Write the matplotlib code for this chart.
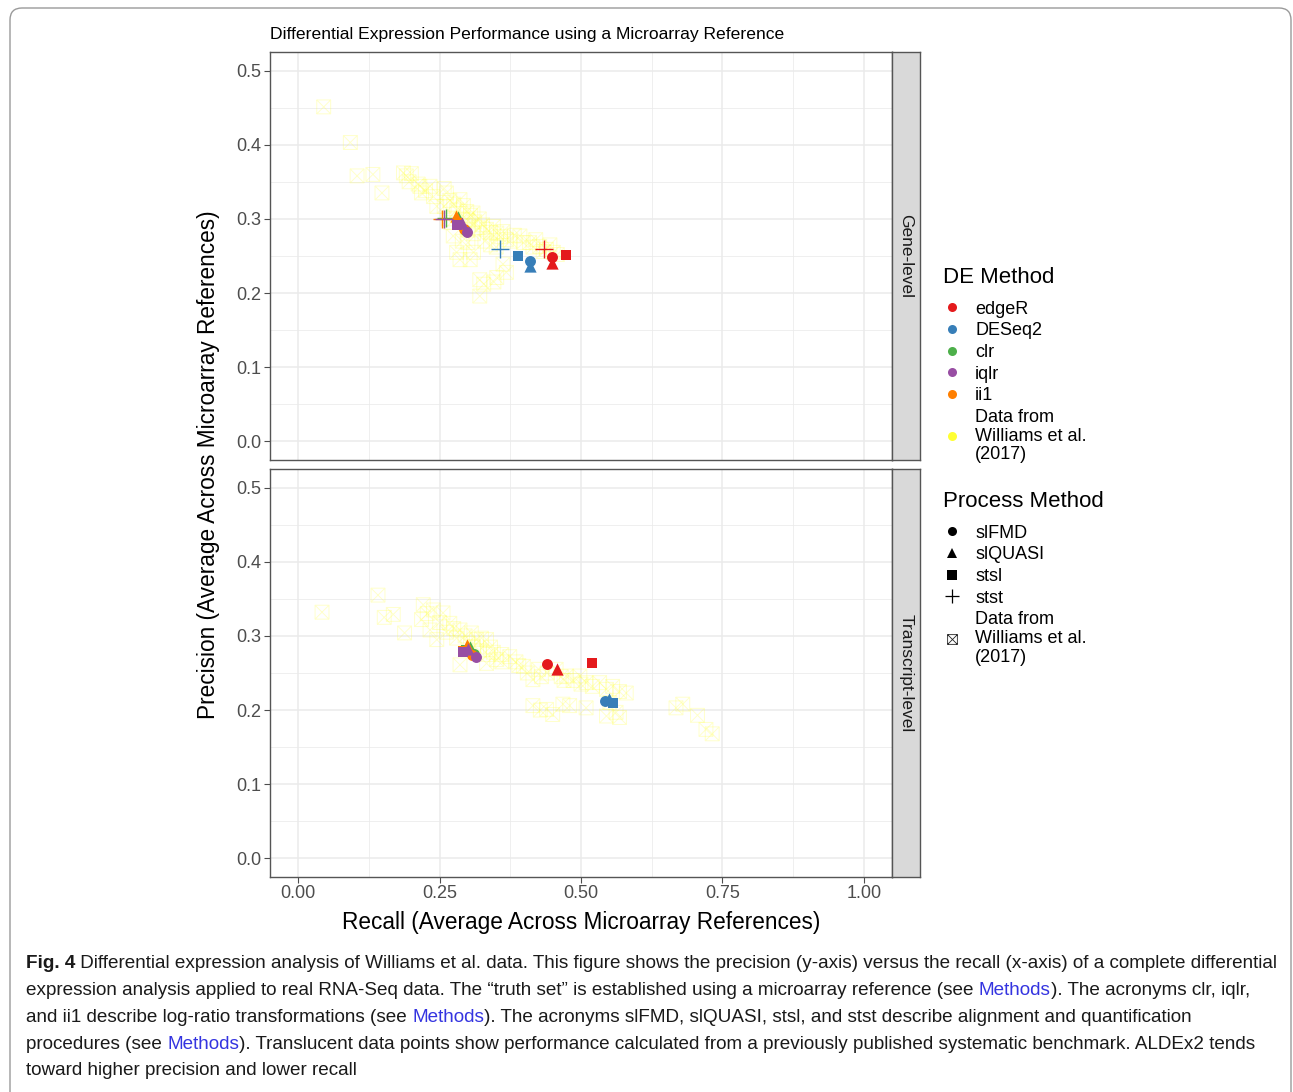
import numpy as np
import matplotlib
matplotlib.use("Agg")
import matplotlib.pyplot as plt
from matplotlib.path import Path
from matplotlib.lines import Line2D
from matplotlib.patches import FancyBboxPatch
from matplotlib.transforms import IdentityTransform

plt.rcParams['font.family'] = ['Liberation Sans', 'DejaVu Sans']

# ---- data ----
methods = ["edgeR", "DESeq2", "clr", "iqlr", "ii1"]
method_colors = {"edgeR": "#E41A1C", "DESeq2": "#377EB8", "clr": "#4DAF4A",
                 "iqlr": "#984EA3", "ii1": "#FF7F00"}
processes = ["slFMD", "slQUASI", "stsl", "stst"]
panels = ["Gene-level", "Transcript-level"]

# recall / precision per method, in process order (slFMD, slQUASI, stsl, stst)
gene_recall = {
    "edgeR":  [0.448, 0.449, 0.473, 0.434],
    "DESeq2": [0.410, 0.410, 0.389, 0.356],
    "clr":    [0.295, 0.283, 0.282, 0.262],
    "iqlr":   [0.299, 0.290, 0.280, 0.258],
    "ii1":    [0.293, 0.279, 0.281, 0.255],
}
gene_precision = {
    "edgeR":  [0.248, 0.241, 0.251, 0.260],
    "DESeq2": [0.243, 0.237, 0.250, 0.259],
    "clr":    [0.285, 0.302, 0.294, 0.301],
    "iqlr":   [0.282, 0.294, 0.292, 0.300],
    "ii1":    [0.287, 0.304, 0.295, 0.300],
}
tx_recall = {
    "edgeR":  [0.439, 0.458, 0.520, np.nan],
    "DESeq2": [0.542, 0.549, 0.556, np.nan],
    "clr":    [0.310, 0.303, 0.297, np.nan],
    "iqlr":   [0.314, 0.300, 0.292, np.nan],
    "ii1":    [0.308, 0.298, 0.292, np.nan],
}
tx_precision = {
    "edgeR":  [0.262, 0.256, 0.263, np.nan],
    "DESeq2": [0.212, 0.215, 0.209, np.nan],
    "clr":    [0.275, 0.285, 0.281, np.nan],
    "iqlr":   [0.271, 0.283, 0.278, np.nan],
    "ii1":    [0.274, 0.288, 0.279, np.nan],
}

# Williams et al. (2017) benchmark points
williams_gene_recall = [
    0.045, 0.092, 0.104, 0.132, 0.148, 0.186, 0.191, 0.200, 0.196, 0.212, 0.215, 0.218, 0.225,
    0.233, 0.239, 0.245, 0.258, 0.258, 0.262, 0.268, 0.275, 0.286, 0.280, 0.292, 0.298, 0.305,
    0.309, 0.300, 0.312, 0.320, 0.318, 0.326, 0.333, 0.340, 0.345, 0.351, 0.358, 0.368, 0.362,
    0.375, 0.382, 0.392, 0.398, 0.409, 0.415, 0.420, 0.427, 0.433, 0.439, 0.445, 0.451, 0.458,
    0.274, 0.286, 0.280, 0.304, 0.310, 0.362, 0.368, 0.321, 0.328, 0.351, 0.346, 0.321,
    0.265, 0.270, 0.290, 0.300, 0.310, 0.330, 0.340, 0.350, 0.300, 0.290,
]
williams_gene_precision = [
    0.451, 0.403, 0.358, 0.360, 0.335, 0.362, 0.358, 0.361, 0.350, 0.347, 0.344, 0.335, 0.338,
    0.344, 0.330, 0.317, 0.341, 0.317, 0.335, 0.325, 0.320, 0.326, 0.312, 0.318, 0.310, 0.305,
    0.308, 0.298, 0.296, 0.300, 0.288, 0.292, 0.286, 0.282, 0.290, 0.281, 0.276, 0.272, 0.283,
    0.270, 0.278, 0.277, 0.268, 0.268, 0.262, 0.272, 0.263, 0.256, 0.259, 0.265, 0.255, 0.252,
    0.277, 0.245, 0.255, 0.245, 0.255, 0.239, 0.228, 0.218, 0.212, 0.221, 0.215, 0.196,
    0.300, 0.295, 0.300, 0.285, 0.280, 0.270, 0.265, 0.262, 0.268, 0.270,
]
williams_tx_recall = [
    0.042, 0.141, 0.152, 0.168, 0.188, 0.221, 0.218, 0.228, 0.239, 0.256, 0.233, 0.245, 0.250,
    0.268, 0.262, 0.275, 0.286, 0.280, 0.295, 0.306, 0.315, 0.324, 0.286, 0.333, 0.333, 0.340,
    0.345, 0.351, 0.360, 0.374, 0.385, 0.398, 0.405, 0.415, 0.425, 0.440, 0.456, 0.465, 0.474,
    0.486, 0.498, 0.509, 0.520, 0.533, 0.545, 0.556, 0.568, 0.580,
    0.415, 0.428, 0.439, 0.450, 0.468, 0.480, 0.509, 0.545, 0.551, 0.562, 0.568, 0.668, 0.680,
    0.706, 0.721, 0.732,
    0.310, 0.300, 0.320, 0.335, 0.360, 0.390, 0.430, 0.470, 0.500,
]
williams_tx_precision = [
    0.332, 0.355, 0.325, 0.329, 0.304, 0.342, 0.322, 0.330, 0.335, 0.331, 0.308, 0.295, 0.318,
    0.317, 0.305, 0.310, 0.308, 0.297, 0.300, 0.304, 0.295, 0.297, 0.261, 0.263, 0.295, 0.285,
    0.278, 0.268, 0.275, 0.272, 0.265, 0.259, 0.250, 0.241, 0.255, 0.250, 0.255, 0.245, 0.246,
    0.240, 0.246, 0.237, 0.232, 0.237, 0.228, 0.232, 0.225, 0.223,
    0.206, 0.200, 0.201, 0.194, 0.208, 0.206, 0.203, 0.192, 0.210, 0.197, 0.190, 0.203, 0.208,
    0.193, 0.174, 0.168,
    0.285, 0.290, 0.280, 0.275, 0.265, 0.260, 0.245, 0.240, 0.235,
]

x_ticks = [0.00, 0.25, 0.50, 0.75, 1.00]
x_ticklabels = ["0.00", "0.25", "0.50", "0.75", "1.00"]
y_ticks = [0.0, 0.1, 0.2, 0.3, 0.4, 0.5]
y_ticklabels = ["0.0", "0.1", "0.2", "0.3", "0.4", "0.5"]

caption_lines = [
    [("Fig. 4", "k", "bold"), (" Differential expression analysis of Williams et al. data. This figure shows the precision (y-axis) versus the recall (x-axis) of a complete differential", "k", "normal")],
    [("expression analysis applied to real RNA-Seq data. The \u201ctruth set\u201d is established using a microarray reference (see ", "k", "normal"), ("Methods", "L", "normal"), ("). The acronyms clr, iqlr,", "k", "normal")],
    [("and ii1 describe log-ratio transformations (see ", "k", "normal"), ("Methods", "L", "normal"), ("). The acronyms slFMD, slQUASI, stsl, and stst describe alignment and quantification", "k", "normal")],
    [("procedures (see ", "k", "normal"), ("Methods", "L", "normal"), ("). Translucent data points show performance calculated from a previously published systematic benchmark. ALDEx2 tends", "k", "normal")],
    [("toward higher precision and lower recall", "k", "normal")],
]

# ---- style ----
W, H = 1293, 1092
markers = {"slFMD": "o", "slQUASI": "^", "stsl": "s", "stst": "+"}
msizes = {"slFMD": 62, "slQUASI": 78, "stsl": 58, "stst": 150}
boxx = Path([(-1, -1), (1, -1), (1, 1), (-1, 1), (-1, -1),
             (-1, -1), (1, 1), (-1, 1), (1, -1)],
            [Path.MOVETO, Path.LINETO, Path.LINETO, Path.LINETO, Path.CLOSEPOLY,
             Path.MOVETO, Path.LINETO, Path.MOVETO, Path.LINETO])
grid_c = "#EBEBEB"
tick_c = "#4D4D4D"

fig = plt.figure(figsize=(W / 100, H / 100), dpi=100)

# outer rounded frame
frame = FancyBboxPatch((10, -30), 1281, H - 8 + 30,
                       boxstyle="round,pad=0,rounding_size=12",
                       transform=IdentityTransform(), facecolor="none",
                       edgecolor="#9a9a9a", linewidth=1.0)
fig.patches.append(frame)

axes = []
panel_data = [(gene_recall, gene_precision, williams_gene_recall, williams_gene_precision),
              (tx_recall, tx_precision, williams_tx_recall, williams_tx_precision)]
tops = [52, 469]
ph = 408
for i, (rec, prec, wr, wp) in enumerate(panel_data):
    ax = fig.add_axes([270 / W, 1 - (tops[i] + ph) / H, 622 / W, ph / H])
    axes.append(ax)
    ax.set_xlim(-0.05, 1.05)
    ax.set_ylim(-0.025, 0.525)
    ax.set_xticks(x_ticks)
    ax.set_yticks(y_ticks)
    ax.set_yticklabels(y_ticklabels)
    ax.set_xticks([0.125, 0.375, 0.625, 0.875], minor=True)
    ax.set_yticks([0.05, 0.15, 0.25, 0.35, 0.45], minor=True)
    ax.grid(True, which="major", color=grid_c, linewidth=1.1, zorder=0)
    ax.grid(True, which="minor", color=grid_c, linewidth=0.55, zorder=0)
    ax.set_axisbelow(True)
    ax.tick_params(axis="both", which="minor", length=0)
    ax.tick_params(axis="y", which="major", length=4, width=0.8, color=tick_c,
                   labelsize=13, labelcolor=tick_c, pad=2)
    if i == 0:
        ax.tick_params(axis="x", which="major", length=0, labelbottom=False)
    else:
        ax.set_xticklabels(x_ticklabels)
        ax.tick_params(axis="x", which="major", length=4, width=0.8, color=tick_c,
                       labelsize=13, labelcolor=tick_c, pad=2)
    for s in ax.spines.values():
        s.set_color("#555555")
        s.set_linewidth(1.0)

    ax.scatter(wr, wp, marker=boxx, s=100, facecolors="none",
               edgecolors="#FFFF33", linewidths=0.7, alpha=0.25, zorder=2)
    for m in ["edgeR", "DESeq2", "clr", "ii1", "iqlr"]:
        for j, p in enumerate(processes):
            if p == "stst":
                ax.scatter(rec[m][j], prec[m][j], marker="+", s=msizes[p],
                           color=method_colors[m], linewidths=1.0, zorder=3)
            else:
                ax.scatter(rec[m][j], prec[m][j], marker=markers[p], s=msizes[p],
                           color=method_colors[m], linewidths=0, zorder=3)

    # facet strip
    sax = fig.add_axes([892 / W, 1 - (tops[i] + ph) / H, 28 / W, ph / H])
    sax.set_facecolor("#D9D9D9")
    sax.set_xticks([])
    sax.set_yticks([])
    for s in sax.spines.values():
        s.set_color("#555555")
        s.set_linewidth(1.0)
    sax.text(0.5, 0.5, panels[i], rotation=-90, ha="center", va="center",
             fontsize=12.5, color="#1A1A1A", transform=sax.transAxes)

fig.text(270 / W, 1 - 35 / H, "Differential Expression Performance using a Microarray Reference",
         fontsize=12.6, va="center", ha="left", color="black")
fig.text(208 / W, 1 - (52 + 877) / 2 / H, "Precision (Average Across Microarray References)",
         rotation=90, fontsize=16.3, va="center", ha="center")
fig.text(581 / W, 1 - 922 / H, "Recall (Average Across Microarray References)",
         fontsize=16.3, va="center", ha="center")

# legends
williams_label = "Data from\nWilliams et al.\n(2017)"
de_handles = [Line2D([], [], marker="o", linestyle="", markersize=6.5,
                     markerfacecolor=method_colors[m], markeredgewidth=0) for m in methods]
de_handles.append(Line2D([], [], marker="o", linestyle="", markersize=6.5,
                         markerfacecolor="#FFFF33", markeredgewidth=0))
pr_handles = []
for p in processes:
    if p == "stst":
        pr_handles.append(Line2D([], [], marker="+", linestyle="", markersize=10,
                                 color="black", markeredgewidth=0.9))
    else:
        pr_handles.append(Line2D([], [], marker=markers[p], linestyle="", markersize=6.5,
                                 markerfacecolor="black", markeredgewidth=0))
pr_handles.append(Line2D([], [], marker=boxx, linestyle="", markersize=7,
                         markerfacecolor="none", markeredgecolor="#222222",
                         markeredgewidth=0.6))

for handles, labels, title, top in [(de_handles, methods + [williams_label], "DE Method", 267),
                                    (pr_handles, processes + [williams_label], "Process Method", 491)]:
    leg = fig.legend(handles, labels, title=title,
                     loc="upper left", bbox_to_anchor=(943 / W, 1 - top / H),
                     frameon=False, fontsize=13, title_fontsize=16, alignment="left",
                     handlelength=1.0, handletextpad=0.78, labelspacing=0.26,
                     borderpad=0, borderaxespad=0)
    leg._legend_box.sep = 9
    for t in leg.get_texts():
        t.set_linespacing(1.13)

# caption, built piece by piece so the links can be coloured
cap_font = ["Liberation Sans Narrow", "Liberation Sans", "DejaVu Sans"]
link_c = "#3434E0"
for k, line in enumerate(caption_lines):
    y = 1 - (964 + 26.7 * k) / H
    prev = None
    for txt, col, wt in line:
        c = link_c if col == "L" else "#1a1a1a"
        if prev is None:
            prev = fig.text(26 / W, y, txt, fontsize=13.6, color=c, weight=wt,
                            family=cap_font, va="center", ha="left")
        else:
            prev = axes[1].annotate(txt, xy=(1, 0), xycoords=prev, va="bottom", ha="left",
                                    fontsize=13.6, color=c, weight=wt, family=cap_font,
                                    annotation_clip=False)

fig.savefig("out.png", dpi=100)
